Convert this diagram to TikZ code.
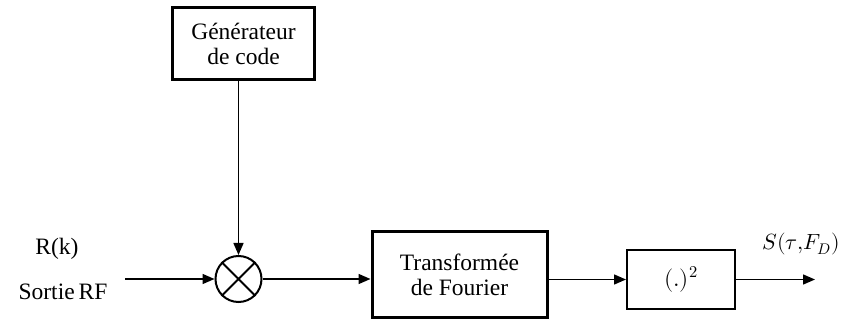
\documentclass[tikz,border=0pt]{standalone}
\usepackage{fontspec}
\setmainfont{Liberation Serif}
\usepackage{unicode-math}
\setmathfont{Latin Modern Math}
\usetikzlibrary{arrows.meta}
\begin{document}
\begin{tikzpicture}[x=1pt,y=-1pt,
  every node/.style={font=\fontsize{23.5}{27}\selectfont},
  thickbox/.style={draw,line width=3pt,align=center,inner sep=0pt},
  thinbox/.style={draw,line width=2pt,align=center,inner sep=0pt},
  wire/.style={line width=1.5pt},
  arr/.style={wire,-{Triangle[length=12pt,width=10pt]}}]
\useasboundingbox (0,0) rectangle (843,320);
% blocks
\node[thickbox,minimum width=142pt,minimum height=72pt] (gen) at (243.5,44) {Générateur\\[-2pt]de code};
\node[draw,circle,line width=2pt,minimum size=46pt,inner sep=0pt] (mix) at (238.5,279) {};
\draw[line width=2pt] (mix.north east) -- (mix.south west) (mix.north west) -- (mix.south east);
\node[thickbox,minimum width=175pt,minimum height=86pt] (fft) at (459.5,274.5) {Transformée\\[-2pt]de Fourier};
\node[thinbox,minimum width=108pt,minimum height=58pt] (sq) at (681,279.5) {$(.)^2$};
% labels
\node (rk) at (57,249) {R(k)};
\node (rf) at (63,292) {Sortie\,RF};
\node[anchor=east,inner sep=0pt,font=\fontsize{22}{26}\selectfont] (out) at (840,244) {$S(\tau{,}F_D)$};
% free ends
\coordinate (inp) at (125,279);
\coordinate (outp) at (815,281);
% connectors
\draw[arr] (gen.south -| mix.north) -- (mix.north);
\draw[arr] (inp) -- (mix.west);
\draw[arr] (mix.east) -- (fft.west |- mix.east);
\draw[arr] (fft.east |- sq.west) -- (sq.west);
\draw[arr] (sq.east) -- (sq.east -| outp);
\end{tikzpicture}
\end{document}
